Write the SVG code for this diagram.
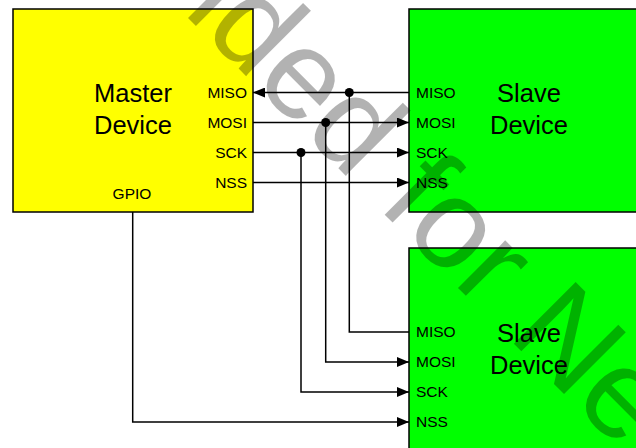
<svg xmlns="http://www.w3.org/2000/svg" width="636" height="448" viewBox="0 0 636 448">
  <style>
    .box { stroke: #000; stroke-width: 1.5; }
    .master { fill: #ffff00; }
    .slave { fill: #00ff00; }
    .title { font-family: "Liberation Sans", Arial, sans-serif; font-size: 25.5px; fill: #000; text-anchor: middle; }
    .port { font-family: "Liberation Sans", Arial, sans-serif; font-size: 15.5px; fill: #000; }
    .r { text-anchor: end; }
    .c { text-anchor: middle; }
    .wire { fill: none; stroke: #000; stroke-width: 1.5; }
    .dot { fill: #000; }
    .wm { font-family: "Liberation Sans", Arial, sans-serif; font-size: 127px; fill: #000; fill-opacity: 0.3; }
  </style>
  <defs>
    <marker id="arr" markerUnits="userSpaceOnUse" markerWidth="12" markerHeight="10" refX="12" refY="5" orient="auto">
      <path d="M0,0 L12,5 L0,10 z" fill="#000"/>
    </marker>
  </defs>
  <rect width="636" height="448" fill="#fff"/>

  <g id="master">
    <rect class="box master" x="13" y="9" width="240" height="203"/>
    <text class="title" x="133" y="102">Master</text>
    <text class="title" x="133" y="134">Device</text>
    <text class="port r" x="247" y="97.5">MISO</text>
    <text class="port r" x="247" y="127.5">MOSI</text>
    <text class="port r" x="247" y="157.5">SCK</text>
    <text class="port r" x="247" y="187.5">NSS</text>
    <text class="port c" x="132" y="199">GPIO</text>
  </g>

  <g id="slave1">
    <rect class="box slave" x="409" y="9" width="240" height="203"/>
    <text class="title" x="529" y="102">Slave</text>
    <text class="title" x="529" y="134">Device</text>
    <text class="port" x="416" y="97.5">MISO</text>
    <text class="port" x="416" y="127.5">MOSI</text>
    <text class="port" x="416" y="157.5">SCK</text>
    <text class="port" x="416" y="187.5">NSS</text>
  </g>

  <g id="slave2">
    <rect class="box slave" x="409" y="248" width="240" height="210"/>
    <text class="title" x="529" y="342">Slave</text>
    <text class="title" x="529" y="374">Device</text>
    <text class="port" x="416" y="337">MISO</text>
    <text class="port" x="416" y="367">MOSI</text>
    <text class="port" x="416" y="397">SCK</text>
    <text class="port" x="416" y="427">NSS</text>
  </g>

  <g id="connectors">
    <path class="wire" d="M409,92.5 H253" marker-end="url(#arr)"/>
    <path class="wire" d="M253,122.5 H409" marker-end="url(#arr)"/>
    <path class="wire" d="M253,152.5 H409" marker-end="url(#arr)"/>
    <path class="wire" d="M253,182.5 H409" marker-end="url(#arr)"/>
    <path class="wire" d="M409,332 H349.3 V92.5"/>
    <path class="wire" d="M325.7,122.5 V362 H409" marker-end="url(#arr)"/>
    <path class="wire" d="M301,152.5 V392 H409" marker-end="url(#arr)"/>
    <path class="wire" d="M132.7,212 V422 H409" marker-end="url(#arr)"/>
    <circle class="dot" cx="349.3" cy="92.5" r="4.5"/>
    <circle class="dot" cx="325.7" cy="122.5" r="4.5"/>
    <circle class="dot" cx="301" cy="152.5" r="4.5"/>
  </g>

  <g id="watermark">
    <text class="wm" transform="translate(182,12) rotate(45)">ided for Ne</text>
  </g>
</svg>
